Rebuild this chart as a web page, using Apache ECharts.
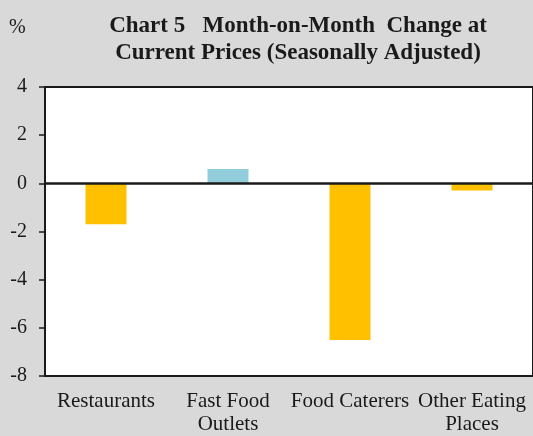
<!DOCTYPE html>
<html>
<head>
<meta charset="utf-8">
<script src="https://cdn.jsdelivr.net/npm/echarts@6/dist/echarts.min.js"></script>
<style>
  html, body { margin: 0; padding: 0; background: #d9d9d9; }
  #chart { width: 533px; height: 436px; }
</style>
</head>
<body>
<div id="chart"></div>
<script>
const categories = ['Restaurants', 'Fast Food\nOutlets', 'Food Caterers', 'Other Eating\nPlaces']
const changes = [-1.7, 0.6, -6.5, -0.3]
const yTicks = [-8, -6, -4, -2, 0, 2, 4]

const serif = '"Liberation Serif", "Times New Roman", serif'
const chart = echarts.init(document.getElementById('chart'))

const option = {
  backgroundColor: '#d9d9d9',
  animation: false,
  title: {
    text: 'Chart 5   Month-on-Month  Change at\nCurrent Prices (Seasonally Adjusted)',
    left: 293,
    top: 8,
    textAlign: 'center',
    textStyle: {
      fontFamily: serif,
      fontWeight: 'bold',
      fontSize: 23,
      lineHeight: 27,
      color: '#1a1a1a'
    }
  },
  graphic: [{
    type: 'text',
    left: 9,
    top: 18,
    style: { text: '%', font: '20px ' + serif, fill: '#1a1a1a' }
  }],
  grid: {
    left: 45,
    right: -3,
    top: 87,
    bottom: 60,
    show: true,
    backgroundColor: '#ffffff',
    borderColor: '#1a1a1a',
    borderWidth: 2
  },
  xAxis: {
    type: 'category',
    data: categories,
    axisLine: { onZero: false, lineStyle: { color: '#1a1a1a', width: 2 } },
    axisTick: { show: false },
    axisLabel: {
      interval: 0,
      margin: 14,
      fontFamily: serif,
      fontSize: 21,
      lineHeight: 23,
      color: '#1a1a1a'
    }
  },
  yAxis: {
    type: 'value',
    min: yTicks[0],
    max: yTicks[yTicks.length - 1],
    interval: 2,
    splitLine: { show: false },
    axisLine: { show: true, lineStyle: { color: '#1a1a1a', width: 2 } },
    axisTick: { show: true, inside: false, length: 6, lineStyle: { color: '#1a1a1a', width: 1.5 } },
    axisLabel: {
      margin: 18,
      fontFamily: serif,
      fontSize: 20,
      color: '#1a1a1a'
    }
  },
  series: [{
    type: 'bar',
    data: changes.map(v => ({
      value: v,
      itemStyle: { color: v >= 0 ? '#92cddc' : '#ffc000' }
    })),
    barWidth: 41,
    markLine: {
      silent: true,
      symbol: 'none',
      label: { show: false },
      lineStyle: { color: '#1a1a1a', width: 2.5, type: 'solid' },
      data: [{ yAxis: 0 }]
    }
  }]
}

chart.setOption(option)
</script>
</body>
</html>
